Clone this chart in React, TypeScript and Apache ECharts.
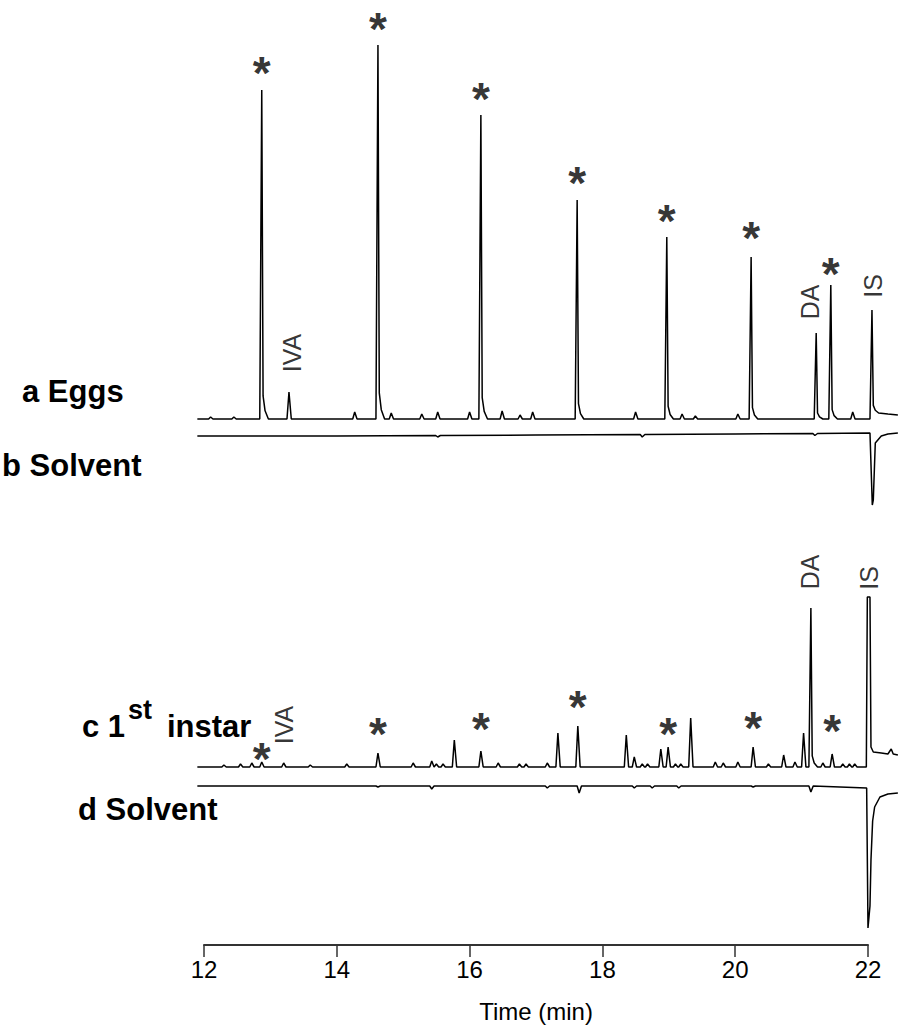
import React, { useEffect, useRef } from "react";
import * as echarts from "echarts";

// ---------- data (retention time in min, signal in arbitrary detector units) ----------
const X_TICKS = [12, 14, 16, 18, 20, 22];

// trace offsets on the common signal scale
const EGGS_BASE = 613;
const SOLV_B_BASE = 596;
const INSTAR_BASE = 265;
const SOLV_D_BASE = 246;

// a Eggs: peaks [time, height, level after peak]
const eggsPeaks: [number, number, number?][] = [
  [12.1, 2], [12.45, 2], [12.87, 329], [13.28, 27], [14.27, 7], [14.62, 374],
  [14.82, 6], [15.28, 5], [15.52, 7], [16.0, 7], [16.17, 304], [16.49, 8],
  [16.76, 4], [16.95, 7], [17.62, 219], [18.5, 7], [18.97, 182], [19.2, 5],
  [19.4, 3], [20.04, 5], [20.24, 162], [21.22, 86], [21.44, 134], [21.77, 7],
  [22.06, 109, 6],
];
const eggsExtra: [number, number][] = [[11.9, 0], [22.3, 5], [22.45, 4]];

// b Solvent (control for a)
const solventB: [number, number][] = [
  [11.9, 0], [14, 0], [15.49, 0.5], [15.52, -1], [15.56, 0.5], [17, 1],
  [18.57, 1.5], [18.6, -1], [18.64, 1.5], [20, 2], [21.17, 2.5], [21.2, 0.5],
  [21.24, 2.5], [22.03, 3], [22.065, -69], [22.08, -64], [22.11, -7],
  [22.2, 0], [22.3, 2], [22.45, 3],
];

// c 1st instar
const instarPeaks: [number, number, number?][] = [
  [12.3, 2], [12.55, 3], [12.72, 4], [12.87, 5], [13.2, 4], [13.6, 2], [14.15, 3],
  [14.62, 14], [15.15, 4], [15.43, 6], [15.5, 3], [15.6, 3], [15.77, 27],
  [16.17, 16], [16.43, 4], [16.75, 3], [16.85, 3], [17.17, 4], [17.33, 34],
  [17.63, 41], [18.36, 32], [18.48, 10], [18.6, 3], [18.68, 3], [18.88, 18],
  [18.99, 20], [19.1, 3], [19.18, 3], [19.33, 49], [19.7, 5], [19.82, 4],
  [20.04, 5], [20.27, 20], [20.5, 3], [20.73, 12], [20.9, 5], [21.03, 34],
  [21.14, 159], [21.32, 4], [21.46, 13], [21.62, 3], [21.72, 3], [21.8, 3],
];
const instarExtra: [number, number][] = [
  [11.9, 0], [21.975, 0], [21.99, 170], [22.03, 170], [22.045, 20], [22.08, 15],
  [22.2, 14], [22.3, 13], [22.35, 18], [22.38, 13], [22.45, 12],
];

// d Solvent (control for c)
const solventDPeaks: [number, number, number?][] = [
  [14.62, -1], [15.43, -3], [17.17, -2], [17.65, -7], [18.48, -2], [18.75, -2],
  [19.15, -2], [20.27, -1], [21.14, -6],
];
const solventDExtra: [number, number][] = [
  [11.9, 0], [21.98, -2], [22.0, -142], [22.03, -120], [22.045, -74],
  [22.07, -35], [22.1, -21], [22.18, -11], [22.3, -8], [22.45, -7],
];

// annotations: [time, height above trace baseline]
const eggsStars: [number, number][] = [
  [12.87, 357], [14.62, 401], [16.17, 331], [17.62, 247], [18.97, 209], [20.24, 192], [21.44, 156],
];
const instarStars: [number, number][] = [
  [12.87, 19], [14.62, 44], [16.17, 49], [17.63, 71], [18.99, 44], [20.27, 50], [21.46, 47],
];
const eggsNames: [number, number, string][] = [
  [13.33, 66, "IVA"], [21.13, 117, "DA"], [22.075, 133, "IS"],
];
const instarNames: [number, number, string][] = [
  [13.2, 42, "IVA"], [21.13, 195, "DA"], [22.015, 189, "IS"],
];

// ---------- helpers ----------
function buildTrace(base: number, peaks: [number, number, number?][], extra: [number, number][]) {
  const pts: [number, number][] = [];
  for (const [t, h, after] of peaks) {
    const lvl = after ?? 0;
    pts.push([t - 0.03, base]);
    pts.push([t, base + h]);
    if (Math.abs(h) > 60) {
      pts.push([t + 0.02, base + h * 0.07 + lvl]);
      pts.push([t + 0.05, base + h * 0.025 + lvl]);
      pts.push([t + 0.1, base + lvl]);
    } else {
      pts.push([t + 0.035, base]);
    }
  }
  for (const [t, v] of extra) pts.push([t, base + v]);
  pts.sort((p, q) => p[0] - q[0]);
  return pts;
}

const SANS = "'Liberation Sans', Arial, Helvetica, sans-serif";

export default function App() {
  const ref = useRef<HTMLDivElement>(null);
  useEffect(() => {
    document.body.style.margin = "0";
    if (!ref.current) return;
    const chart = echarts.init(ref.current, undefined, { renderer: "svg" });

    const lineStyle = { color: "#000", width: 1.5 };
    const traceSeries = (name: string, data: [number, number][]) => ({
      name,
      type: "line",
      xAxisIndex: 0,
      yAxisIndex: 0,
      data,
      showSymbol: false,
      symbol: "none",
      lineStyle,
      silent: true,
      clip: false,
    });
    const starSeries = (base: number, stars: [number, number][]) => ({
      type: "scatter",
      xAxisIndex: 0,
      yAxisIndex: 0,
      symbolSize: 0,
      silent: true,
      data: stars.map(([t, h]) => [t, base + h]),
      label: {
        show: true,
        position: "inside",
        formatter: "*",
        fontSize: 46,
        fontWeight: "bold",
        fontFamily: SANS,
        color: "#000",
        textBorderWidth: 0,
        offset: [0, 11],
      },
    });
    const nameSeries = (base: number, names: [number, number, string][]) => ({
      type: "scatter",
      xAxisIndex: 0,
      yAxisIndex: 0,
      symbolSize: 0,
      silent: true,
      data: names.map(([t, h, s]) => ({ value: [t, base + h], name: s })),
      label: {
        show: true,
        position: "inside",
        formatter: "{b}",
        rotate: 90,
        fontSize: 25,
        fontFamily: SANS,
        color: "#000",
        textBorderWidth: 0,
      },
    });

    chart.setOption({
      animation: false,
      backgroundColor: "#fff",
      grid: [
        { left: 0, right: 0, top: 0, bottom: 0 },
        { left: 204, right: 30, top: 944, height: 1 },
      ],
      xAxis: [
        { type: "value", gridIndex: 0, min: 8.928, max: 22.452, show: false },
        {
          type: "value",
          gridIndex: 1,
          min: X_TICKS[0],
          max: X_TICKS[X_TICKS.length - 1],
          interval: 2,
          position: "bottom",
          axisLine: { show: true, onZero: false, lineStyle: { color: "#333", width: 2 } },
          axisTick: { show: true, length: 12, lineStyle: { color: "#333", width: 1.5 } },
          splitLine: { show: false },
          axisLabel: { fontSize: 24, color: "#000", fontFamily: SANS, margin: 12 },
          name: "Time (min)",
          nameLocation: "middle",
          nameGap: 54,
          nameTextStyle: { fontSize: 24, color: "#000", fontFamily: SANS },
        },
      ],
      yAxis: [
        { type: "value", gridIndex: 0, min: 0, max: 1032, show: false },
        { type: "value", gridIndex: 1, min: 0, max: 1, show: false },
      ],
      series: [
        traceSeries("a Eggs", buildTrace(EGGS_BASE, eggsPeaks, eggsExtra)),
        traceSeries("b Solvent", solventB.map(([t, v]) => [t, SOLV_B_BASE + v] as [number, number])),
        traceSeries("c 1st instar", buildTrace(INSTAR_BASE, instarPeaks, instarExtra)),
        traceSeries("d Solvent", buildTrace(SOLV_D_BASE, solventDPeaks, solventDExtra)),
        starSeries(EGGS_BASE, eggsStars),
        starSeries(INSTAR_BASE, instarStars),
        nameSeries(EGGS_BASE, eggsNames),
        nameSeries(INSTAR_BASE, instarNames),
      ],
      graphic: [
        { type: "text", x: 22, y: 391, style: { text: "a Eggs", font: `bold 31px ${SANS}`, fill: "#000", verticalAlign: "middle" } },
        { type: "text", x: 2, y: 465, style: { text: "b Solvent", font: `bold 31px ${SANS}`, fill: "#000", verticalAlign: "middle" } },
        { type: "text", x: 82, y: 726, style: { text: "c 1", font: `bold 31px ${SANS}`, fill: "#000", verticalAlign: "middle" } },
        { type: "text", x: 128, y: 710, style: { text: "st", font: `bold 27px ${SANS}`, fill: "#000", verticalAlign: "middle" } },
        { type: "text", x: 167, y: 726, style: { text: "instar", font: `bold 31px ${SANS}`, fill: "#000", verticalAlign: "middle" } },
        { type: "text", x: 78, y: 809, style: { text: "d Solvent", font: `bold 31px ${SANS}`, fill: "#000", verticalAlign: "middle" } },
      ],
    });
    return () => chart.dispose();
  }, []);
  return <div ref={ref} style={{ position: "fixed", left: 0, top: 0, width: 898, height: 1032 }} />;
}
